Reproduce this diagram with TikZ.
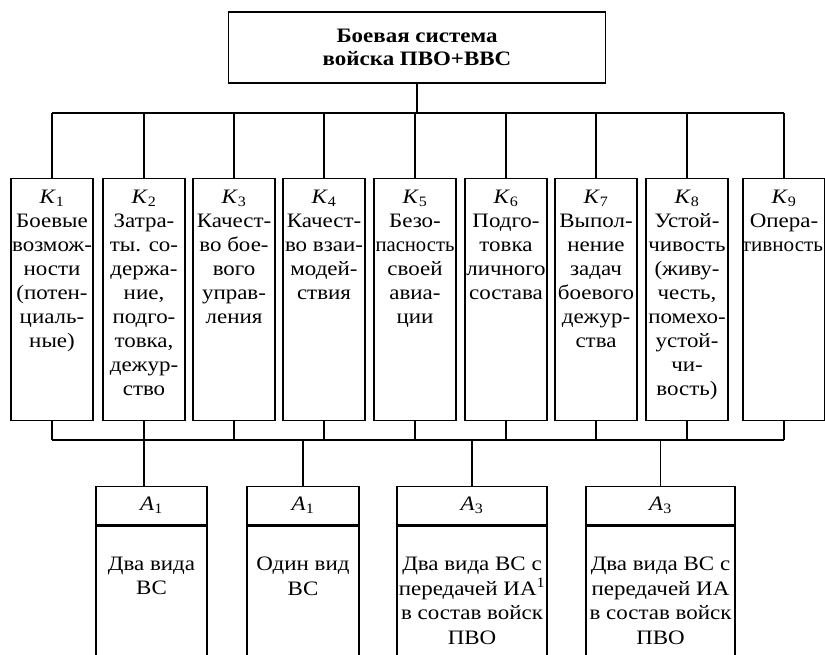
\documentclass[tikz,border=0pt]{standalone}
\usepackage{fontspec}
\setmainfont{Liberation Serif}[FakeStretch=1.12]
\usetikzlibrary{positioning}
\tikzset{
  sysbox/.style={draw,line width=1.3pt,minimum width=377pt,minimum height=71pt,
                 align=center,font=\fontsize{20.5}{23}\selectfont\bfseries},
  kbox/.style={draw,line width=1.3pt,anchor=north,inner xsep=1pt,inner ysep=0pt,
               minimum width=82pt},
  ahead/.style={draw,line width=1.3pt,anchor=north,minimum height=38pt,inner sep=0pt,
                font=\fontsize{20.5}{24}\selectfont},
  abody/.style={draw,line width=1.3pt,inner xsep=1pt,inner ysep=0pt},
  link/.style={line width=1.3pt},
}
\newcommand{\kcell}[1]{\begin{minipage}[t][242pt][t]{80pt}\fontsize{20.5}{24}\selectfont
  \centering\vspace*{11pt}#1\end{minipage}}
\newcommand{\acell}[2]{\begin{minipage}[t][150pt][t]{#1}\fontsize{20.5}{24.5}\selectfont
  \centering\vspace*{31pt}#2\end{minipage}}
\newcommand{\kk}[1]{\textit{K}\textsubscript{#1}}
\newcommand{\wide}[1]{\makebox[\linewidth]{#1}}

\begin{document}
\begin{tikzpicture}[x=1pt,y=-1pt]
\useasboundingbox (0,0) rectangle (825,654);
\clip (0,0) rectangle (825,654);
% system
\node[sysbox] (sys) at (417,47.5) {Боевая система\\войска ПВО+ВВС};
% criteria
\node[kbox] (k1) at (52,178) {\kcell{\kk1\\Боевые\\возмож-\\ности\\(потен-\\циаль-\\ные)}};
\node[kbox] (k2) at (144,178) {\kcell{\kk2\\Затра-\\ты. со-\\держа-\\ние,\\подго-\\товка,\\дежур-\\ство}};
\node[kbox] (k3) at (234,178) {\kcell{\kk3\\Качест-\\во бое-\\вого\\управ-\\ления}};
\node[kbox] (k4) at (324,178) {\kcell{\kk4\\Качест-\\во взаи-\\модей-\\ствия}};
\node[kbox] (k5) at (415,178) {\kcell{\kk5\\Безо-\\\wide{\scalebox{0.9}[1]{пасность}}\\своей\\авиа-\\ции}};
\node[kbox] (k6) at (506,178) {\kcell{\kk6\\Подго-\\товка\\\wide{личного}\\состава}};
\node[kbox] (k7) at (596,178) {\kcell{\kk7\\Выпол-\\нение\\задач\\\wide{боевого}\\дежур-\\ства}};
\node[kbox] (k8) at (687,178) {\kcell{\kk8\\Устой-\\\wide{чивость}\\(живу-\\честь,\\\wide{помехо-}\\устой-\\чи-\\вость)}};
\node[kbox] (k9) at (784,178) {\kcell{\kk9\\Опера-\\\wide{\hspace*{-3pt}\scalebox{0.92}[1]{тивность}}}};
% alternatives
\node[ahead,minimum width=111pt] (a1) at (151.5,486) {\textit{A}\textsubscript{1}};
\node[abody,below=0pt of a1] (a1b) {\acell{109pt}{Два вида\\ВС}};
\node[ahead,minimum width=112pt] (a2) at (303,486) {\textit{A}\textsubscript{1}};
\node[abody,below=0pt of a2] (a2b) {\acell{110pt}{Один вид\\ВС}};
\node[ahead,minimum width=150pt] (a3) at (472,486) {\textit{A}\textsubscript{3}};
\node[abody,below=0pt of a3] (a3b) {\acell{148pt}{\wide{Два вида ВС с}\\\wide{передачей ИА\textsuperscript{1}}\\\wide{в состав войск}\\ПВО}};
\node[ahead,minimum width=149pt] (a4) at (660.5,486) {\textit{A}\textsubscript{3}};
\node[abody,below=0pt of a4] (a4b) {\acell{147pt}{\wide{Два вида ВС с}\\передачей ИА\\\wide{в состав войск}\\ПВО}};
% buses
\coordinate (tbus) at (0,113);
\coordinate (bbus) at (0,440);
\draw[link] (sys.south) -- (sys.south|-tbus);
\draw[link] (k1.north|-tbus) -- (k9.north|-tbus);
\draw[link] (k1.north) -- (k1.north|-tbus);
\draw[link] (k2.north) -- (k2.north|-tbus);
\draw[link] (k3.north) -- (k3.north|-tbus);
\draw[link] (k4.north) -- (k4.north|-tbus);
\draw[link] (k5.north) -- (k5.north|-tbus);
\draw[link] (k6.north) -- (k6.north|-tbus);
\draw[link] (k7.north) -- (k7.north|-tbus);
\draw[link] (k8.north) -- (k8.north|-tbus);
\draw[link] (k9.north) -- (k9.north|-tbus);
\draw[link] (k1.south|-bbus) -- (k9.south|-bbus);
\draw[link] (k1.south) -- (k1.south|-bbus);
\draw[link] (k2.south) -- (k2.south|-a1.north);
\draw[link] (k3.south) -- (k3.south|-bbus);
\draw[link] (k4.south) -- (k4.south|-bbus);
\draw[link] (k5.south) -- (k5.south|-bbus);
\draw[link] (k6.south) -- (k6.south|-bbus);
\draw[link] (k7.south) -- (k7.south|-bbus);
\draw[link] (k8.south) -- (k8.south|-bbus);
\draw[link] (k9.south) -- (k9.south|-bbus);
\draw[link] (a2.north) -- (a2.north|-bbus);
\draw[link] (a3.north) -- (a3.north|-bbus);
\draw[link] (a4.north) -- (a4.north|-bbus);
\end{tikzpicture}
\end{document}
